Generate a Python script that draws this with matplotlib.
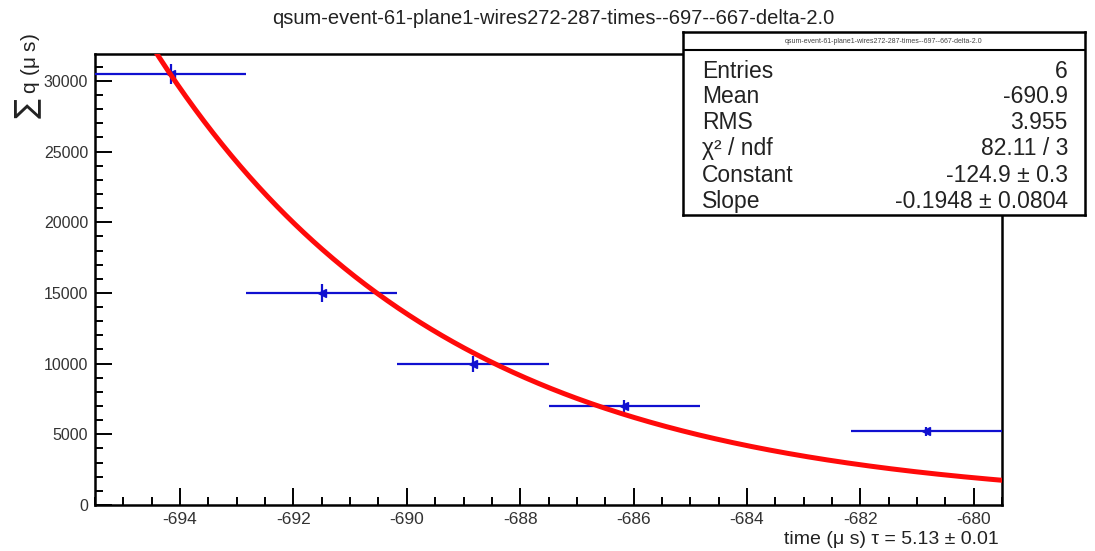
import numpy as np
import matplotlib
matplotlib.use("Agg")
import matplotlib.pyplot as plt
from matplotlib.ticker import MultipleLocator

plt.rcParams['font.family'] = ['Liberation Sans', 'DejaVu Sans']
plt.rcParams['axes.unicode_minus'] = False

# histogram: 6 bins over the time window, bin 5 is empty
x_lo, x_hi = -695.5, -679.5
n_bins = 6
bin_centers = [-694.167, -691.5, -688.833, -686.167, -680.833]
counts = [30500, 15000, 10000, 7000, 5200]
count_err = [700, 640, 560, 420, 350]

# exponential fit: exp(Constant + Slope * t)
fit_const = -124.9
fit_slope = -0.1948

title = "qsum-event-61-plane1-wires272-287-times--697--667-delta-2.0"
stat_names = ["Entries", "Mean", "RMS", "χ² / ndf", "Constant", "Slope"]
stat_values = ["6", "-690.9", "3.955", "82.11 / 3", "-124.9 ± 0.3", "-0.1948 ± 0.0804"]

fig = plt.figure(figsize=(10.95, 5.51), dpi=100)
ax = fig.add_axes([0.0868, 0.0835, 0.8283, 0.8185])

half_w = (x_hi - x_lo) / n_bins / 2
ax.errorbar(bin_centers, counts, xerr=half_w, yerr=count_err, fmt='<',
            color='#1010d0', ms=6, lw=1.6, capsize=0, zorder=3)

t = np.linspace(x_lo, x_hi, 500)
ax.plot(t, np.exp(fit_const + fit_slope * t), color='#ff0a0a', lw=3.6, zorder=4)

ax.set_xlim(x_lo, x_hi)
ax.set_ylim(0, 31900)
ax.xaxis.set_major_locator(MultipleLocator(2))
ax.xaxis.set_minor_locator(MultipleLocator(0.5))
ax.yaxis.set_major_locator(MultipleLocator(5000))
ax.yaxis.set_minor_locator(MultipleLocator(1000))
ax.tick_params(which='both', direction='in', top=False, right=False,
               width=1.4, colors='black', labelcolor='#333333')
ax.tick_params(axis='x', labelsize=12.5)
ax.tick_params(axis='y', labelsize=11.5)
ax.tick_params(which='major', length=12, pad=5)
ax.tick_params(which='minor', length=6)
for s in ax.spines.values():
    s.set_linewidth(1.8)

fig.text(0.505, 0.967, title, ha='center', va='center', fontsize=14.5, color='#222222')
fig.text(0.912, 0.02, "time (μ s) τ = 5.13 ± 0.01", ha='right', va='center',
         fontsize=14, color='#222222')
fig.text(0.026, 0.94, r"$\sum$ q (μ s)", rotation=90, ha='center', va='top',
         fontsize=15, color='#222222')

# stats box
sb = fig.add_axes([0.6237, 0.6098, 0.367, 0.3322])
sb.set_xlim(0, 1)
sb.set_ylim(0, 1)
sb.set_xticks([])
sb.set_yticks([])
for s in sb.spines.values():
    s.set_linewidth(1.8)
sb.axhline(0.9016, color='black', lw=1.5)
sb.text(0.5, 0.95, title, ha='center', va='center', fontsize=5, color='#444444')
row_px = [72, 97, 123, 149, 176, 202]
for name, val, yp in zip(stat_names, stat_values, row_px):
    yy = (215 - yp) / 183
    sb.text(0.047, yy, name, ha='left', va='center', fontsize=16.5, color='#222222')
    sb.text(0.958, yy, val, ha='right', va='center', fontsize=16.5, color='#222222')

fig.savefig("out.png", dpi=100)
